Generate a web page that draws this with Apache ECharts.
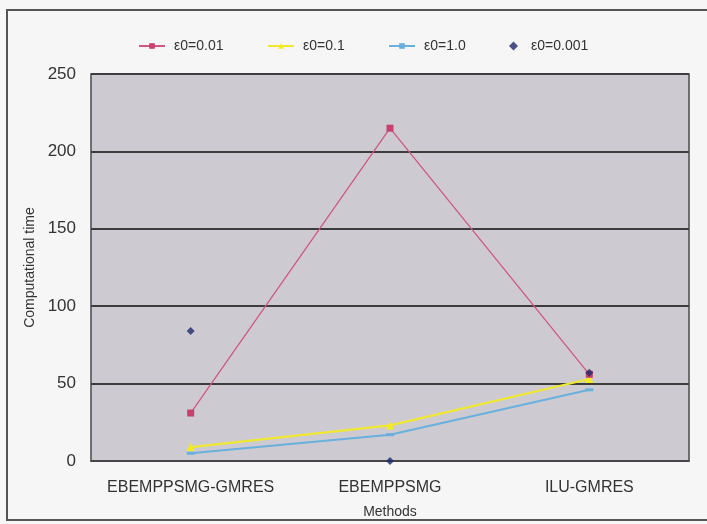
<!DOCTYPE html>
<html>
<head>
<meta charset="utf-8">
<script src="https://cdn.jsdelivr.net/npm/echarts@6/dist/echarts.min.js"></script>
<style>
  html, body { margin: 0; padding: 0; background: #f6f6f6; }
  #chart { width: 707px; height: 524px; }
</style>
</head>
<body>
<div id="chart"></div>
<script>
// Methods compared and their computational time for several ε0 settings
const methods = ['EBEMPPSMG-GMRES', 'EBEMPPSMG', 'ILU-GMRES'];
const seriesNames = ['ε0=0.01', 'ε0=0.1', 'ε0=1.0', 'ε0=0.001'];
const eps001 = [31, 215, 56];
const eps01 = [9, 23, 53];
const eps10 = [5, 17, 46];
const eps0001 = [84, 0, 57];
const yTicks = [0, 50, 100, 150, 200, 250];

const FONT = '"Liberation Sans", Arial, sans-serif';
const TEXT = '#333333';

// one legend block per series, laid out in a row above the plot
const legendLefts = [133, 262, 383, 504];
const legendIconWidths = [26, 26, 26, 9];
const legends = seriesNames.map((n, i) => ({
  data: [n],
  top: 34,
  left: legendLefts[i],
  itemWidth: legendIconWidths[i],
  itemHeight: i === 3 ? 9 : 7,
  itemGap: 10,
  textStyle: { fontFamily: FONT, fontSize: 14, color: TEXT, padding: [0, 0, 0, i === 3 ? 8 : 4] }
}));

const chart = echarts.init(document.getElementById('chart'));
chart.setOption({
  backgroundColor: '#f6f6f6',
  animation: false,
  textStyle: { fontFamily: FONT, color: TEXT },
  graphic: [{
    type: 'rect',
    shape: { x: 7, y: 10, width: 720, height: 510 },
    style: { fill: 'none', stroke: '#555555', lineWidth: 2 },
    silent: true, z: -1
  }],
  legend: legends,
  grid: {
    left: 91, right: 18, top: 74, bottom: 60,
    show: true,
    backgroundColor: '#cdcbd1',
    borderColor: '#4a4a4a',
    borderWidth: 1.5
  },
  xAxis: {
    type: 'category',
    data: methods,
    boundaryGap: true,
    name: 'Methods',
    nameLocation: 'middle',
    nameGap: 44,
    nameTextStyle: { fontFamily: FONT, fontSize: 14, color: TEXT },
    axisLine: { lineStyle: { color: '#4a4a4a', width: 1.5 } },
    axisTick: { inside: true, length: 4, lineStyle: { color: '#4a4a4a' } },
    axisLabel: { interval: 0, hideOverlap: false, fontFamily: FONT, fontSize: 16, color: TEXT, margin: 19 }
  },
  yAxis: {
    type: 'value',
    min: yTicks[0],
    max: yTicks[yTicks.length - 1],
    interval: 50,
    name: 'Computational time',
    nameLocation: 'middle',
    nameGap: 48,
    nameTextStyle: { fontFamily: FONT, fontSize: 14, color: TEXT },
    axisLine: { show: false },
    axisTick: { show: false },
    axisLabel: { fontFamily: FONT, fontSize: 17, color: TEXT, margin: 15 },
    splitLine: { lineStyle: { color: '#3c3c3c', width: 2 } }
  },
  series: [
    {
      name: seriesNames[0], type: 'line', data: eps001,
      symbol: 'rect', symbolSize: 7,
      itemStyle: { color: '#c8406c' },
      lineStyle: { color: '#d0587e', width: 1.3 }, z: 3
    },
    {
      name: seriesNames[1], type: 'line', data: eps01,
      symbol: 'triangle', symbolSize: 8,
      itemStyle: { color: '#f2ec1c' },
      lineStyle: { color: '#f0e830', width: 2.2 }, z: 2
    },
    {
      name: seriesNames[2], type: 'line', data: eps10,
      symbol: 'rect', symbolSize: [8, 3],
      itemStyle: { color: '#6ab0dc' },
      lineStyle: { color: '#6ab0dc', width: 2 }, z: 2
    },
    {
      name: seriesNames[3], type: 'scatter', data: eps0001,
      symbol: 'diamond', symbolSize: 8,
      itemStyle: { color: '#1c2a6e' }, z: 4
    }
  ]
});
</script>
</body>
</html>
